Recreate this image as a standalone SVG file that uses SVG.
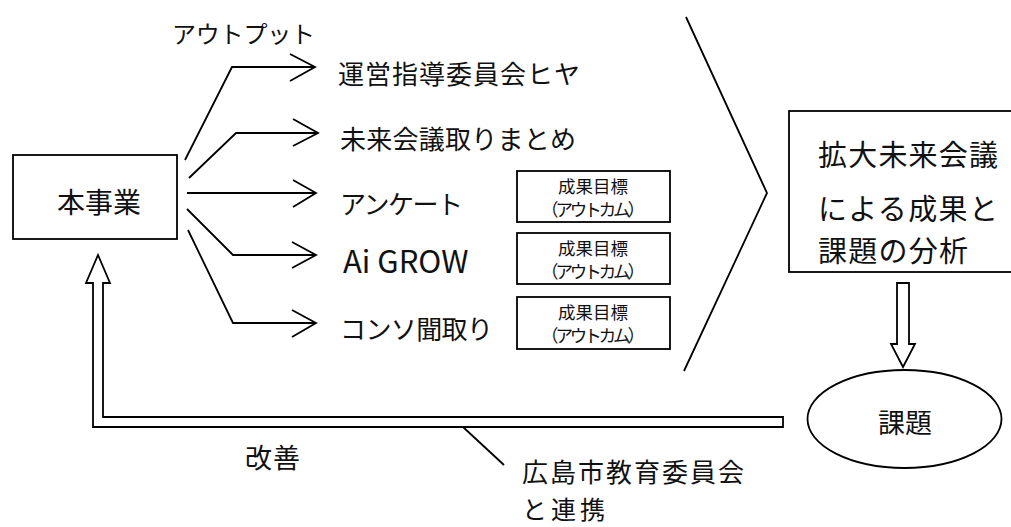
<svg xmlns="http://www.w3.org/2000/svg" width="1011" height="527" viewBox="0 0 1011 527">
<style>
text{font-family:"Noto Sans CJK JP","Noto Sans",sans-serif;fill:#111;dominant-baseline:central}
.ln{fill:none;stroke:#000;stroke-width:1.8;stroke-linejoin:miter}
.box{fill:#fff;stroke:#000;stroke-width:1.8}
.big{font-size:26px}
.sm{font-size:17.5px;text-anchor:middle}
</style>
<rect width="1011" height="527" fill="#fff"/>
<g id="honjigyou">
<rect class="box" x="13" y="155" width="164" height="84"/>
<text x="99" y="201" font-size="28" text-anchor="middle">本事業</text>
</g>
<g id="connectors">
<polyline class="ln" points="185,160 232,67 315,67"/>
<polyline class="ln" points="290,54 315,67 290,81"/>
<polyline class="ln" points="189,178 236,133 318,133"/>
<polyline class="ln" points="293,119 318,133 293,146"/>
<polyline class="ln" points="187,193 316,193"/>
<polyline class="ln" points="293,180 316,193 293,207"/>
<polyline class="ln" points="187,209 233,255 316,255"/>
<polyline class="ln" points="292,242 316,255 292,268"/>
<polyline class="ln" points="188,230 233,323 316,323"/>
<polyline class="ln" points="292,310 316,323 292,337"/>
<polyline class="ln" points="686,17 767,193 684,371"/>
<polygon class="ln" points="897,283 909,283 909,344 915,344 903,367 891,344 897,344"/>
<polygon class="ln" points="93,427 93,283 86,283 98,255 110,283 103,283 103,417 783,417 783,427"/>
<line class="ln" x1="463" y1="427" x2="504" y2="465"/>
</g>
<g id="output-label"><text x="172" y="32" font-size="24" textLength="143">アウトプット</text></g>
<g id="out1"><text class="big" x="338" y="72" textLength="242">運営指導委員会ヒヤ</text></g>
<g id="out2"><text class="big" x="340" y="137" textLength="236">未来会議取りまとめ</text></g>
<g id="out3"><text class="big" x="340" y="202" textLength="123">アンケート</text></g>
<g id="out4"><text x="343" y="259" font-size="31">Ai GROW</text></g>
<g id="out5"><text class="big" x="340" y="327" textLength="153">コンソ聞取り</text></g>
<g id="outcome1">
<rect class="box" x="517" y="171" width="153" height="51"/>
<text class="sm" x="593" y="185">成果目標</text>
<text class="sm" x="593" y="208" textLength="104">（アウトカム）</text>
</g>
<g id="outcome2">
<rect class="box" x="517" y="233" width="153" height="51"/>
<text class="sm" x="593" y="247">成果目標</text>
<text class="sm" x="593" y="270" textLength="104">（アウトカム）</text>
</g>
<g id="outcome3">
<rect class="box" x="517" y="297" width="153" height="52"/>
<text class="sm" x="593" y="311">成果目標</text>
<text class="sm" x="593" y="334" textLength="104">（アウトカム）</text>
</g>
<g id="analysis">
<rect class="box" x="789" y="111" width="240" height="161"/>
<text x="818" y="153" font-size="29" textLength="180">拡大未来会議</text>
<text x="818" y="207" font-size="29" textLength="180">による成果と</text>
<text x="818" y="249" font-size="29" textLength="150">課題の分析</text>
</g>
<g id="kadai">
<ellipse class="box" cx="904.5" cy="419" rx="97" ry="49"/>
<text x="905" y="421" font-size="27" text-anchor="middle">課題</text>
</g>
<g id="kaizen"><text x="245" y="456" font-size="27" textLength="55">改善</text></g>
<g id="renkei">
<text x="522" y="470" font-size="26" textLength="222">広島市教育委員会</text>
<text x="522" y="508" font-size="25" textLength="83">と連携</text>
</g>
</svg>
